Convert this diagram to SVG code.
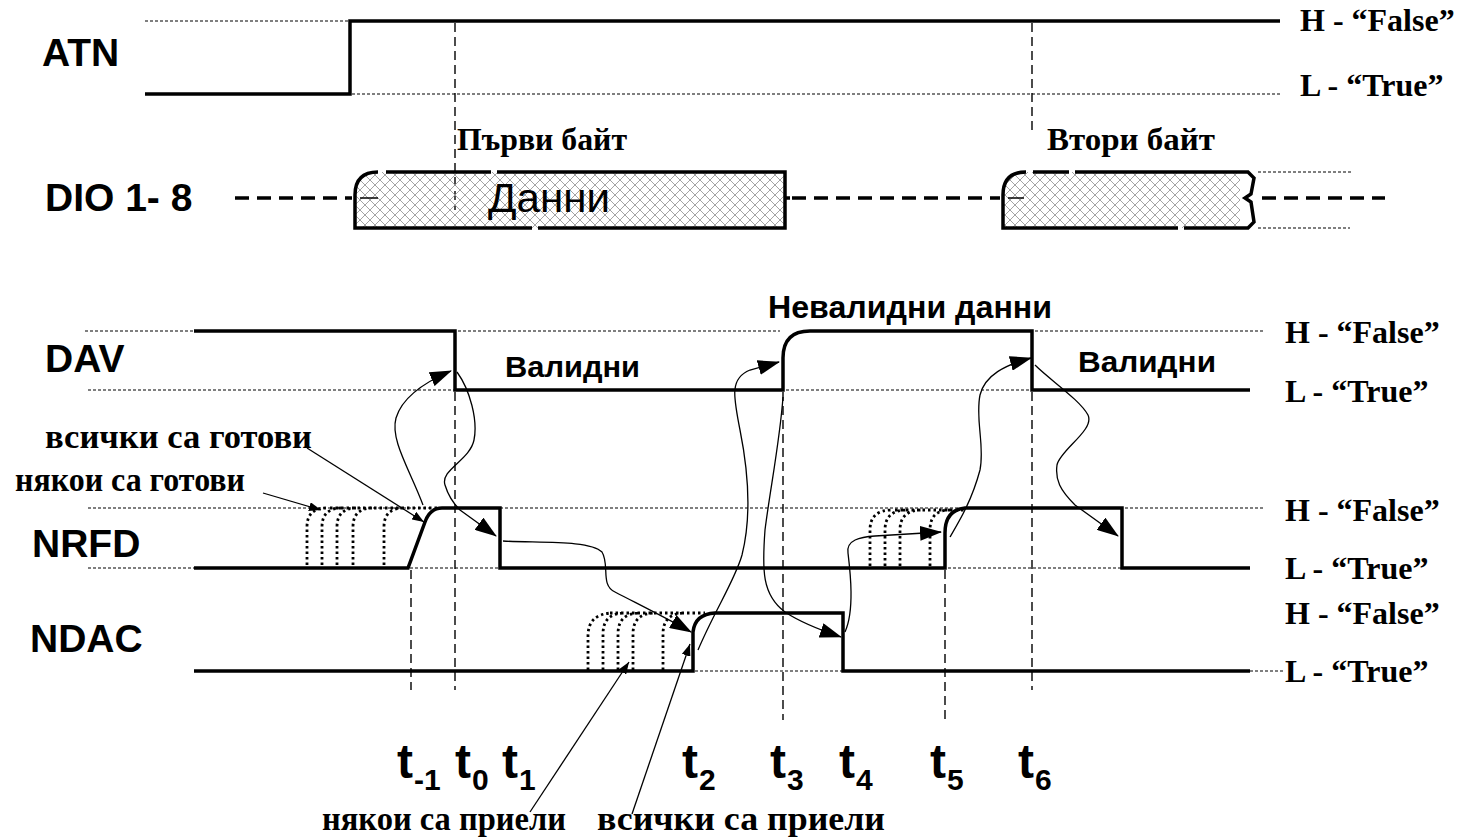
<svg xmlns="http://www.w3.org/2000/svg" width="1469" height="837" viewBox="0 0 1469 837">
<style>
.sig{fill:none;stroke:#000;stroke-width:3.5;stroke-linejoin:miter}
.dot{fill:none;stroke:#000;stroke-width:1.2;stroke-dasharray:3 2}
.vd{fill:none;stroke:#000;stroke-width:1.4;stroke-dasharray:9 5}
.trc{fill:none;stroke:#000;stroke-width:2.8;stroke-dasharray:2.5 3}
.arr{fill:none;stroke:#000;stroke-width:1.3;marker-end:url(#ah)}
.ptr{fill:none;stroke:#000;stroke-width:1.3;marker-end:url(#ahs)}
.nm{font-family:"Liberation Sans",Arial,sans-serif;font-weight:bold;font-size:39px}
.lv{font-family:"Liberation Serif","Times New Roman",serif;font-weight:bold;font-size:32px}
.cy{font-family:"Liberation Serif","Times New Roman",serif;font-weight:bold;font-size:34px}
.ab{font-family:"Liberation Sans",Arial,sans-serif;font-weight:bold}
.tt{font-family:"Liberation Sans",Arial,sans-serif;font-weight:bold;font-size:48px}
.ts{font-family:"Liberation Sans",Arial,sans-serif;font-weight:bold;font-size:30px}
</style>
<defs>
<pattern id="hatch" patternUnits="userSpaceOnUse" width="10" height="10">
<path d="M0,0 L10,10 M10,0 L0,10" stroke="#9a9a9a" stroke-width="0.9"/>
</pattern>
<marker id="ah" markerUnits="userSpaceOnUse" markerWidth="22" markerHeight="15" refX="21" refY="7.5" orient="auto">
<path d="M0,0 L22,7.5 L0,15 Z" fill="#000"/>
</marker>
<marker id="ahs" markerUnits="userSpaceOnUse" markerWidth="12" markerHeight="9" refX="12" refY="4.5" orient="auto">
<path d="M0,0 L12,4.5 L0,9 Z" fill="#000"/>
</marker>
</defs>
<rect width="1469" height="837" fill="#fff"/>

<g id="guides">
<path class="dot" d="M145,21 H348 M352,94 H1280"/>
<path class="dot" d="M85,331 H194 M458,331 H780 M1035,331 H1265 M88,390 H455 M786,390 H1032"/>
<path class="dot" d="M88,508 H430 M500,508 H960 M1125,508 H1265 M88,568 H194 M410,568 H500 M948,568 H1122"/>
<path class="dot" d="M695,671 H843 M1250,671 H1283"/>
<path class="dot" d="M1258,172 H1352 M1258,228 H1350"/>
</g>

<g id="timelines">
<path class="vd" d="M455,23 V210 M455,392 V690"/>
<path class="vd" d="M1032,23 V130 M1032,392 V690"/>
<path class="vd" d="M411,570 V690"/>
<path class="vd" d="M783,392 V720"/>
<path class="vd" d="M945,570 V720"/>
</g>

<g id="ATN">
<text class="nm" x="42" y="66">ATN</text>
<path class="sig" stroke-width="4" d="M145,94 H350 V21 H1280"/>
<text class="lv" x="1300" y="31">H - “False”</text>
<text class="lv" x="1300" y="96">L - “True”</text>
</g>

<g id="DIO">
<text class="nm" x="45" y="211">DIO 1- 8</text>
<path fill="url(#hatch)" d="M355,228 V192 Q355,172 375,172 H785 V228 Z"/>
<path fill="url(#hatch)" d="M1003,228 V192 Q1003,172 1023,172 H1240 V228 Z"/>
<path class="sig" stroke-width="3" d="M378,172 Q355,172 355,195 V228 H532 M538,228 H785 V172 H497 M491,172 H386"/>
<path class="sig" stroke-width="3" d="M785,198 H790"/>
<path fill="none" stroke="#000" stroke-width="1.5" d="M360,198 H378 M1008,198 H1024"/>
<path class="sig" stroke-width="3" d="M1026,172 Q1003,172 1003,195 V228 H1178 M1184,228 H1248 L1254,222 L1251,202 L1245,198 L1251,194 L1254,178 L1248,172 H1075 M1069,172 H1033"/>
<path class="sig" stroke-width="3" stroke-dasharray="14 8" d="M235,198 H352 M792,198 H1000 M1262,198 H1385"/>
<text class="lv" x="457" y="150" textLength="170" lengthAdjust="spacingAndGlyphs">Първи байт</text>
<text class="lv" x="1047" y="150" textLength="168" lengthAdjust="spacingAndGlyphs">Втори байт</text>
<text x="488" y="212" font-family="'Liberation Sans',Arial,sans-serif" font-size="40" textLength="122" lengthAdjust="spacingAndGlyphs">Данни</text>
</g>

<g id="DAV">
<text class="nm" x="45" y="372">DAV</text>
<path class="sig" d="M194,331 H455 V390 H783 V358 Q783,331 810,331 H1032 V390 H1250"/>
<text class="ab" x="505" y="377" font-size="30" textLength="135" lengthAdjust="spacingAndGlyphs">Валидни</text>
<text class="ab" x="1078" y="372" font-size="30" textLength="138" lengthAdjust="spacingAndGlyphs">Валидни</text>
<text class="ab" x="768" y="318" font-size="31" textLength="284" lengthAdjust="spacingAndGlyphs">Невалидни данни</text>
<text class="lv" x="1285" y="343">H - “False”</text>
<text class="lv" x="1285" y="402">L - “True”</text>
</g>

<g id="NRFD">
<text class="nm" x="32" y="557">NRFD</text>
<path class="sig" stroke-width="3.2" d="M194,568 H408 L425,522 Q430,508 442,508 H500 V568 H945 V533 Q945,510 965,508 H1122 V568 H1250"/>
<path class="trc" d="M307,565 V527 Q307,508 327,508 M322,565 V527 Q322,508 342,508 M337,565 V527 Q337,508 357,508 M353,565 V527 Q353,508 373,508 M384,565 V527 Q384,508 404,508 M330,508 H440"/>
<path class="trc" d="M870,566 V530 Q870,510 892,510 M885,566 V530 Q885,510 907,510 M900,566 V530 Q900,510 922,510 M930,566 V530 Q930,510 950,510 M895,510 H965"/>
<text class="cy" x="45" y="448" textLength="267" lengthAdjust="spacingAndGlyphs">всички са готови</text>
<text class="cy" x="15" y="491" textLength="230" lengthAdjust="spacingAndGlyphs">някои са готови</text>
<text class="lv" x="1285" y="521">H - “False”</text>
<text class="lv" x="1285" y="579">L - “True”</text>
</g>

<g id="NDAC">
<text class="nm" x="30" y="652">NDAC</text>
<path class="sig" d="M194,671 H693 V632 Q695,614 715,613 H843 V671 H1250"/>
<path class="trc" d="M588,670 V636 Q588,614 612,613 M603,670 V634 Q603,613 625,613 M618,670 V634 Q618,613 640,613 M633,670 V634 Q633,613 655,613 M663,670 V634 Q663,613 685,613 M610,613 H705"/>
<text class="cy" x="322" y="830" textLength="244" lengthAdjust="spacingAndGlyphs">някои са приели</text>
<text class="cy" x="597" y="830" textLength="288" lengthAdjust="spacingAndGlyphs">всички са приели</text>
<text class="lv" x="1285" y="624">H - “False”</text>
<text class="lv" x="1285" y="682">L - “True”</text>
</g>

<g id="time-labels">
<text class="tt" x="397" y="778">t</text><text class="ts" x="414" y="790">-1</text>
<text class="tt" x="455" y="778">t</text><text class="ts" x="472" y="790">0</text>
<text class="tt" x="502" y="778">t</text><text class="ts" x="519" y="790">1</text>
<text class="tt" x="682" y="778">t</text><text class="ts" x="699" y="790">2</text>
<text class="tt" x="770" y="778">t</text><text class="ts" x="787" y="790">3</text>
<text class="tt" x="839" y="778">t</text><text class="ts" x="856" y="790">4</text>
<text class="tt" x="930" y="778">t</text><text class="ts" x="947" y="790">5</text>
<text class="tt" x="1018" y="778">t</text><text class="ts" x="1035" y="790">6</text>
</g>

<g id="connectors">
<path class="arr" d="M423,505 C410,470 390,440 396,418 C402,398 425,382 451,371"/>
<path class="arr" d="M457,372 C470,390 478,420 474,440 C470,460 440,470 445,485 C448,495 455,505 460,510 L496,536"/>
<path class="arr" d="M503,541 C540,543 590,540 602,552 C610,565 600,585 615,592 C640,605 670,620 691,632"/>
<path class="arr" d="M698,650 C715,610 735,580 742,555 C752,515 748,470 740,430 C733,395 730,378 750,370 L779,362"/>
<path class="arr" d="M783,397 C780,440 770,490 765,530 C762,570 762,595 785,612 C800,622 820,630 841,637"/>
<path class="arr" d="M845,632 C855,610 850,570 848,553 C846,540 860,537 875,536 L941,532"/>
<path class="arr" d="M950,537 C960,520 972,500 980,470 C985,445 975,420 980,395 C985,375 1005,365 1031,358"/>
<path class="arr" d="M1035,365 C1050,380 1080,400 1088,415 C1095,430 1060,450 1057,465 C1055,480 1060,490 1075,505 L1118,536"/>
<path class="ptr" d="M307,448 L424,522"/>
<path class="ptr" d="M263,493 L321,510"/>
<path class="ptr" d="M530,812 L629,662"/>
<path class="ptr" d="M632,814 L690,644"/>
</g>
</svg>
